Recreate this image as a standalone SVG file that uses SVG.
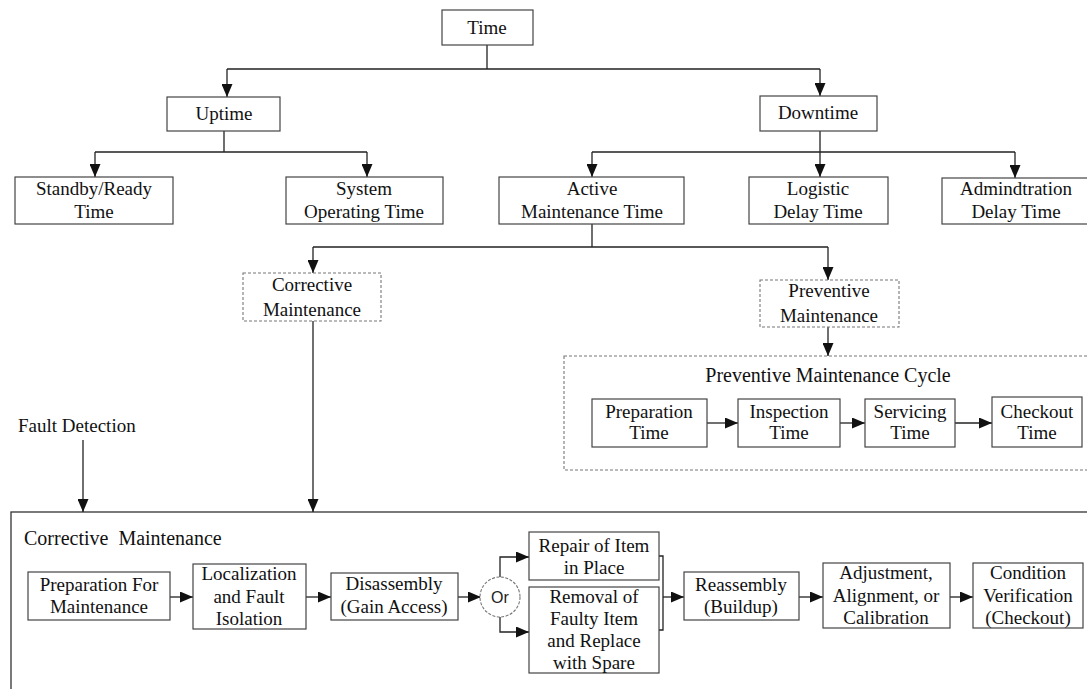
<svg xmlns="http://www.w3.org/2000/svg" width="1087" height="689" viewBox="0 0 1087 689">
<style>
.b{fill:#fff;stroke:#444;stroke-width:1.2}
.d{fill:#fff;stroke:#777;stroke-width:1.1;stroke-dasharray:3 2}
.t{font-family:"Liberation Serif","Times New Roman",serif;font-size:19px;fill:#111;text-anchor:middle}
.l{fill:none;stroke:#222;stroke-width:1.3}
</style>
<defs>
<marker id="a" viewBox="0 0 13 11" refX="13" refY="5.5" markerWidth="13" markerHeight="11" markerUnits="userSpaceOnUse" orient="auto">
<path d="M0,0 L13,5.5 L0,11 z" fill="#111"/>
</marker>
</defs>
<rect width="1087" height="689" fill="#fff"/>

<g id="pm-cycle">
<rect x="564" y="356" width="530" height="114" fill="none" stroke="#777" stroke-width="1.1" stroke-dasharray="3 2"/>
<text class="t" x="828" y="382" style="font-size:20px">Preventive Maintenance Cycle</text>
</g>
<g id="cm-process">
<rect x="11" y="512" width="1090" height="200" fill="none" stroke="#333" stroke-width="1.3"/>
<text class="t" x="24" y="545" style="text-anchor:start;font-size:20px;white-space:pre" xml:space="preserve">Corrective  Maintenance</text>
</g>

<g id="connectors">
<path class="l" d="M487,45 V69 M227,69 H820" />
<path class="l" d="M227,69 V97" marker-end="url(#a)"/>
<path class="l" d="M820,69 V96" marker-end="url(#a)"/>
<path class="l" d="M224,131 V152 M95,152 H367"/>
<path class="l" d="M95,152 V177" marker-end="url(#a)"/>
<path class="l" d="M367,152 V177" marker-end="url(#a)"/>
<path class="l" d="M820,131 V152 M592,152 H1015"/>
<path class="l" d="M592,152 V177" marker-end="url(#a)"/>
<path class="l" d="M820,152 V177" marker-end="url(#a)"/>
<path class="l" d="M1015,152 V178" marker-end="url(#a)"/>
<path class="l" d="M592,224 V247 M313,247 H828"/>
<path class="l" d="M313,247 V273" marker-end="url(#a)"/>
<path class="l" d="M828,247 V280" marker-end="url(#a)"/>
<path class="l" d="M828,327 V356" marker-end="url(#a)"/>
<path class="l" d="M313,321 V512" marker-end="url(#a)"/>
<path class="l" d="M83,440 V512" marker-end="url(#a)"/>
<path class="l" d="M707,423 H738" marker-end="url(#a)"/>
<path class="l" d="M840,423 H865" marker-end="url(#a)"/>
<path class="l" d="M955,423 H992" marker-end="url(#a)"/>
<path class="l" d="M170,597 H193" marker-end="url(#a)"/>
<path class="l" d="M306,597 H331" marker-end="url(#a)"/>
<path class="l" d="M458,597 H481" marker-end="url(#a)"/>
<path class="l" d="M500,577 V557 H529" marker-end="url(#a)"/>
<path class="l" d="M500,617 V632 H529" marker-end="url(#a)"/>
<path class="l" d="M659,556 H663 V630 H659"/>
<path class="l" d="M663,597 H684" marker-end="url(#a)"/>
<path class="l" d="M799,597 H823" marker-end="url(#a)"/>
<path class="l" d="M950,597 H973" marker-end="url(#a)"/>
</g>

<g id="time"><rect class="b" x="442" y="10" width="91" height="35"/><text class="t" x="487" y="34">Time</text></g>
<g id="uptime"><rect class="b" x="167" y="97" width="113" height="34"/><text class="t" x="224" y="120">Uptime</text></g>
<g id="downtime"><rect class="b" x="760" y="96" width="117" height="35"/><text class="t" x="818" y="119">Downtime</text></g>
<g id="standby"><rect class="b" x="15" y="177" width="158" height="47"/><text class="t" x="94" y="195">Standby/Ready</text><text class="t" x="94" y="218">Time</text></g>
<g id="system"><rect class="b" x="286" y="177" width="157" height="47"/><text class="t" x="364" y="195">System</text><text class="t" x="364" y="218">Operating Time</text></g>
<g id="active"><rect class="b" x="499" y="177" width="185" height="47"/><text class="t" x="592" y="195">Active</text><text class="t" x="592" y="218">Maintenance Time</text></g>
<g id="logistic"><rect class="b" x="749" y="177" width="139" height="47"/><text class="t" x="818" y="195">Logistic</text><text class="t" x="818" y="218">Delay Time</text></g>
<g id="admin"><rect class="b" x="942" y="178" width="150" height="46"/><text class="t" x="1016" y="195">Admindtration</text><text class="t" x="1016" y="218">Delay Time</text></g>

<g id="corrective"><rect class="d" x="243" y="273" width="138" height="48"/><text class="t" x="312" y="291">Corrective</text><text class="t" x="312" y="316">Maintenance</text></g>
<g id="preventive"><rect class="d" x="760" y="280" width="139" height="47"/><text class="t" x="829" y="297">Preventive</text><text class="t" x="829" y="322">Maintenance</text></g>

<g id="pm-prep"><rect class="b" x="592" y="399" width="115" height="48"/><text class="t" x="649" y="418">Preparation</text><text class="t" x="649" y="439">Time</text></g>
<g id="pm-insp"><rect class="b" x="738" y="399" width="102" height="48"/><text class="t" x="789" y="418">Inspection</text><text class="t" x="789" y="439">Time</text></g>
<g id="pm-serv"><rect class="b" x="865" y="399" width="90" height="48"/><text class="t" x="910" y="418">Servicing</text><text class="t" x="910" y="439">Time</text></g>
<g id="pm-check"><rect class="b" x="992" y="397" width="90" height="50"/><text class="t" x="1037" y="418">Checkout</text><text class="t" x="1037" y="439">Time</text></g>

<g id="fault-detection"><text class="t" x="18" y="432" style="text-anchor:start">Fault Detection</text></g>

<g id="cm-prep"><rect class="b" x="28" y="572" width="142" height="48"/><text class="t" x="99" y="591">Preparation For</text><text class="t" x="99" y="613">Maintenance</text></g>
<g id="cm-local"><rect class="b" x="193" y="564" width="113" height="65"/><text class="t" x="249" y="580">Localization</text><text class="t" x="249" y="603">and Fault</text><text class="t" x="249" y="625">Isolation</text></g>
<g id="cm-disas"><rect class="b" x="331" y="573" width="127" height="47"/><text class="t" x="394" y="590">Disassembly</text><text class="t" x="394" y="613">(Gain Access)</text></g>
<g id="cm-or"><circle cx="500" cy="597" r="20" fill="#fff" stroke="#777" stroke-width="1.1" stroke-dasharray="3 1.5"/><text x="500" y="603" style="font-family:'Liberation Sans',Arial,sans-serif;font-size:16px;fill:#222;text-anchor:middle">Or</text></g>
<g id="cm-repair"><rect class="b" x="529" y="532" width="130" height="48"/><text class="t" x="594" y="552">Repair of Item</text><text class="t" x="594" y="574">in Place</text></g>
<g id="cm-removal"><rect class="b" x="529" y="587" width="130" height="86"/><text class="t" x="594" y="603">Removal of</text><text class="t" x="594" y="625">Faulty Item</text><text class="t" x="594" y="647">and Replace</text><text class="t" x="594" y="669">with Spare</text></g>
<g id="cm-reas"><rect class="b" x="684" y="572" width="115" height="48"/><text class="t" x="741" y="591">Reassembly</text><text class="t" x="741" y="613">(Buildup)</text></g>
<g id="cm-adj"><rect class="b" x="823" y="563" width="127" height="65"/><text class="t" x="886" y="579">Adjustment,</text><text class="t" x="886" y="602">Alignment, or</text><text class="t" x="886" y="624">Calibration</text></g>
<g id="cm-cond"><rect class="b" x="973" y="563" width="110" height="65"/><text class="t" x="1028" y="579">Condition</text><text class="t" x="1028" y="602">Verification</text><text class="t" x="1028" y="624">(Checkout)</text></g>
</svg>
